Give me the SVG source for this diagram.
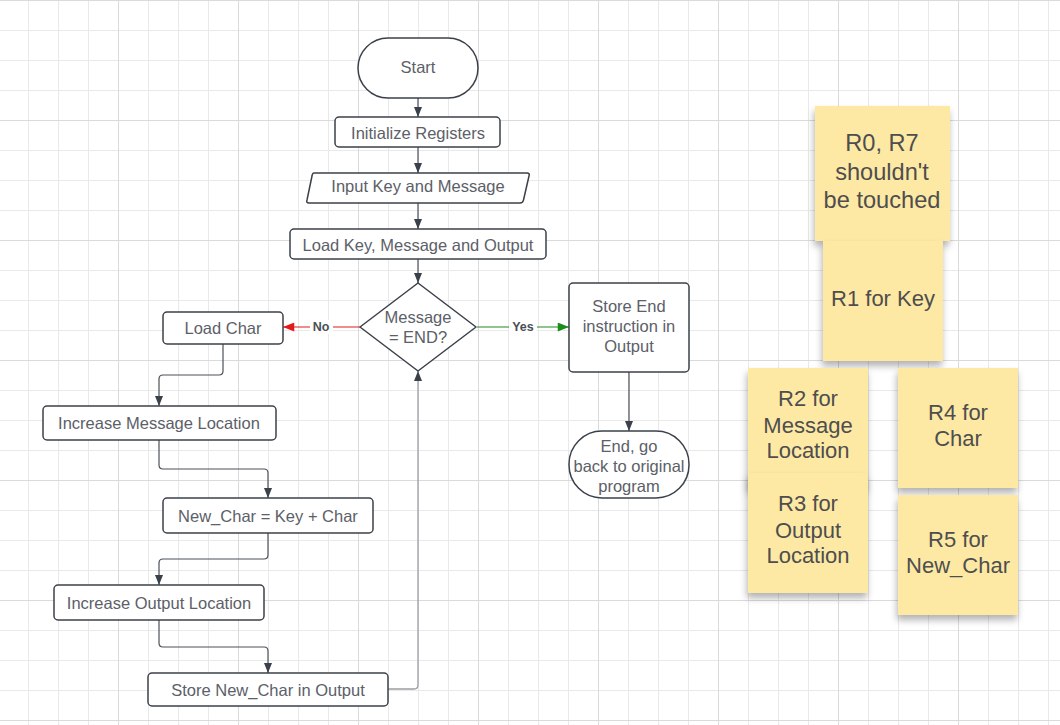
<svg xmlns="http://www.w3.org/2000/svg" width="1060" height="725" viewBox="0 0 1060 725">
<defs>
<pattern id="gmin" width="30" height="30" patternUnits="userSpaceOnUse" x="28" y="0">
<path d="M0.5 0V30M0 0.5H30" stroke="#e9e9e9" stroke-width="1" fill="none"/>
</pattern>
<pattern id="gmaj" width="120" height="120" patternUnits="userSpaceOnUse" x="118" y="0">
<path d="M0.5 0V120M0 0.5H120" stroke="#dadada" stroke-width="1" fill="none"/>
</pattern>
<marker id="a" viewBox="0 0 10 8" refX="10" refY="4" markerWidth="10" markerHeight="8" markerUnits="userSpaceOnUse" orient="auto"><path d="M0 0L10 4L0 8z" fill="#3a414a"/></marker>
<marker id="ar" viewBox="0 0 10 8" refX="10" refY="4" markerWidth="12" markerHeight="9" markerUnits="userSpaceOnUse" orient="auto"><path d="M0 0L10 4L0 8z" fill="#e21a1a"/></marker>
<marker id="ag" viewBox="0 0 10 8" refX="10" refY="4" markerWidth="12" markerHeight="9" markerUnits="userSpaceOnUse" orient="auto"><path d="M0 0L10 4L0 8z" fill="#1c8c1c"/></marker>
<filter id="sh" x="-20%" y="-20%" width="140%" height="150%">
<feDropShadow dx="-1" dy="5" stdDeviation="3.5" flood-color="#000" flood-opacity="0.3"/>
</filter>
</defs>
<style>
.box{fill:#fff;stroke:#3a414a;stroke-width:1.5}
.t{font-family:"Liberation Sans",Arial,sans-serif;font-size:16.5px;fill:#5c6068;text-anchor:middle;dominant-baseline:central}
.c{fill:none;stroke:#4b5058;stroke-width:1.2}
.lc{fill:none;stroke:#9a9da2;stroke-width:1.3}
.lbl{font-family:"Liberation Sans",Arial,sans-serif;font-size:12.5px;font-weight:bold;fill:#4a4f57;text-anchor:middle;dominant-baseline:central}
.note{fill:#fde9a4;filter:url(#sh)}
.nt{font-family:"Liberation Sans",Arial,sans-serif;font-size:22px;fill:#4e4e4e;text-anchor:middle;dominant-baseline:central}
</style>
<rect width="1060" height="725" fill="#fff"/>
<rect width="1060" height="725" fill="url(#gmin)"/>
<rect width="1060" height="725" fill="url(#gmaj)"/>

<g id="connectors">
<path class="c" d="M418 98V117" marker-end="url(#a)"/>
<path class="c" d="M418 147V173" marker-end="url(#a)"/>
<path class="c" d="M418 203V229" marker-end="url(#a)"/>
<path class="c" d="M418 259V283" marker-end="url(#a)"/>
<path d="M360 327H283" fill="none" stroke="#e21a1a" stroke-width="1.2" marker-end="url(#ar)"/>
<rect x="310" y="320" width="23" height="14" fill="#fff"/>
<text class="lbl" x="321" y="327">No</text>
<path d="M477 327H569" fill="none" stroke="#1c8c1c" stroke-width="1.2" marker-end="url(#ag)"/>
<rect x="509" y="320" width="28" height="14" fill="#fff"/>
<text class="lbl" x="523" y="327">Yes</text>
<path class="c" d="M629 372V431" marker-end="url(#a)"/>
<path class="c" d="M223 344V371Q223 375 219 375H163Q159 375 159 379V406" marker-end="url(#a)"/>
<path class="c" d="M159 440V465Q159 469 163 469H264Q268 469 268 473V498" marker-end="url(#a)"/>
<path class="c" d="M268 533V555Q268 559 264 559H163Q159 559 159 563V585" marker-end="url(#a)"/>
<path class="c" d="M159 620V643Q159 647 163 647H264Q268 647 268 651V673" marker-end="url(#a)"/>
<path class="lc" d="M388 689H414Q418 689 418 685V371" marker-end="url(#a)"/>
</g>

<g id="start"><rect class="box" x="358" y="38" width="120" height="60" rx="30"/><text class="t" x="418" y="67">Start</text></g>
<g id="init"><rect class="box" x="335" y="117" width="165" height="30" rx="4"/><text class="t" x="418" y="133">Initialize Registers</text></g>
<g id="input"><path class="box" d="M314 173H527Q530 173 529 176L523.5 200Q523 203 520 203H309Q306 203 307 200L312 176Q312.5 173 314 173Z"/><text class="t" x="418" y="186">Input Key and Message</text></g>
<g id="loadkey"><rect class="box" x="290" y="229" width="256" height="30" rx="4"/><text class="t" x="418" y="245">Load Key, Message and Output</text></g>
<g id="decision"><path class="box" d="M418 283L476 327L418 371L360 327Z" stroke-linejoin="round"/><text class="t" x="418" y="317">Message</text><text class="t" x="418" y="337">= END?</text></g>
<g id="storeend"><rect class="box" x="569" y="283" width="120" height="89" rx="4"/><text class="t" x="629" y="306">Store End</text><text class="t" x="629" y="326">instruction in</text><text class="t" x="629" y="346">Output</text></g>
<g id="end"><rect class="box" x="569" y="431" width="120" height="67" rx="33"/><text class="t" x="629" y="446">End, go</text><text class="t" x="629" y="466">back to original</text><text class="t" x="629" y="486">program</text></g>
<g id="loadchar"><rect class="box" x="163" y="312" width="120" height="32" rx="4"/><text class="t" x="223" y="328">Load Char</text></g>
<g id="incmsg"><rect class="box" x="43" y="406" width="233" height="34" rx="4"/><text class="t" x="159" y="423">Increase Message Location</text></g>
<g id="newchar"><rect class="box" x="163" y="498" width="210" height="35" rx="4"/><text class="t" x="268" y="516">New_Char = Key + Char</text></g>
<g id="incout"><rect class="box" x="54" y="585" width="210" height="35" rx="4"/><text class="t" x="159" y="603">Increase Output Location</text></g>
<g id="storechar"><rect class="box" x="148" y="673" width="240" height="33" rx="4"/><text class="t" x="268" y="690">Store New_Char in Output</text></g>

<g id="note-r0"><rect class="note" x="815" y="106" width="135" height="135"/><text class="nt" x="882" y="143" style="font-size:23.6px">R0, R7</text><text class="nt" x="882" y="172" style="font-size:23.6px">shouldn't</text><text class="nt" x="882" y="200" style="font-size:23.6px">be touched</text></g>
<g id="note-r1"><rect class="note" x="823" y="241" width="120" height="120"/><text class="nt" x="883" y="298">R1 for Key</text></g>
<g id="note-r2"><rect class="note" x="748" y="368" width="120" height="120"/><text class="nt" x="808" y="398">R2 for</text><text class="nt" x="808" y="425">Message</text><text class="nt" x="808" y="450">Location</text></g>
<g id="note-r4"><rect class="note" x="898" y="368" width="120" height="120"/><text class="nt" x="958" y="412">R4 for</text><text class="nt" x="958" y="438">Char</text></g>
<g id="note-r3"><rect class="note" x="748" y="473" width="120" height="120"/><text class="nt" x="808" y="503">R3 for</text><text class="nt" x="808" y="530">Output</text><text class="nt" x="808" y="555">Location</text></g>
<g id="note-r5"><rect class="note" x="898" y="495" width="120" height="120"/><text class="nt" x="958" y="539">R5 for</text><text class="nt" x="958" y="565">New_Char</text></g>
</svg>
